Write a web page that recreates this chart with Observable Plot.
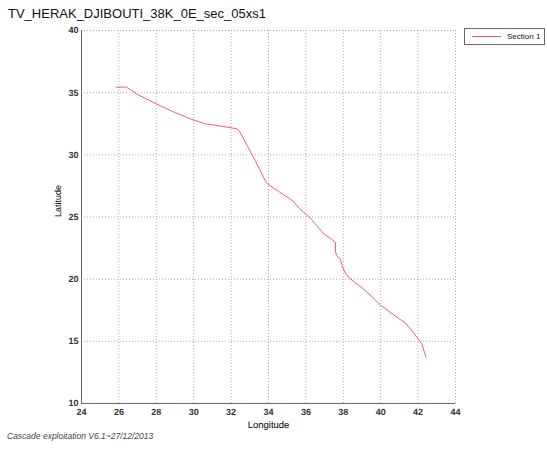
<!DOCTYPE html>
<html>
<head>
<meta charset="utf-8">
<script src="https://cdn.jsdelivr.net/npm/d3@7"></script>
<script src="https://cdn.jsdelivr.net/npm/@observablehq/plot@0.6"></script>
<style>
  html, body { margin: 0; padding: 0; background: #fff; }
  #wrap { position: relative; width: 547px; height: 450px; font-family: "Liberation Sans", Arial, sans-serif; }
  #title { position: absolute; left: 8px; top: 6px; font-size: 13px; color: #111; white-space: nowrap; }
  #caption { position: absolute; left: 7px; top: 431px; font-size: 8.5px; font-style: italic; color: #444; white-space: nowrap; }
  #legend { position: absolute; left: 464px; top: 28px; width: 81px; height: 17px; border: 1px solid #666; box-sizing: border-box; background: #fff; }
  #legend .sw { position: absolute; left: 7px; top: 7px; width: 29px; height: 0; border-top: 1px solid #ff5050; }
  #legend .lb { position: absolute; left: 42px; top: 3px; font-size: 8px; color: #111; white-space: nowrap; }
  #chart svg text { text-rendering: geometricPrecision; }
</style>
</head>
<body>
<div id="wrap">
  <div id="title">TV_HERAK_DJIBOUTI_38K_0E_sec_05xs1</div>
  <div id="chart"></div>
  <div id="legend"><div class="sw"></div><div class="lb">Section 1</div></div>
  <div id="caption">Cascade exploitation V6.1~27/12/2013</div>
</div>
<script>
// Section 1 track: longitude / latitude pairs
const lon = [25.85, 26.4, 27.0, 28.0, 29.0, 29.9, 30.6, 31.5, 32.3, 32.45, 33.2, 33.9, 34.6, 35.3, 35.7, 36.15, 36.5, 36.95, 37.3, 37.58, 37.58, 37.65, 37.85, 37.95, 38.1, 38.35, 39.0, 39.6, 40.0, 40.5, 41.0, 41.3, 41.7, 42.05, 42.2, 42.3, 42.42];
const lat = [35.45, 35.45, 34.85, 34.1, 33.4, 32.85, 32.5, 32.3, 32.1, 31.9, 29.8, 27.7, 27.0, 26.3, 25.6, 25.05, 24.45, 23.65, 23.3, 22.95, 22.2, 21.9, 21.6, 21.0, 20.5, 20.05, 19.3, 18.5, 17.9, 17.35, 16.8, 16.5, 15.8, 15.1, 14.8, 14.3, 13.75];

const xTicks = [24, 26, 28, 30, 32, 34, 36, 38, 40, 42, 44];
const yTicks = [10, 15, 20, 25, 30, 35, 40];

const track = lon.map((x, i) => ({lon: x, lat: lat[i]}));

const chart = Plot.plot({
  width: 547,
  height: 450,
  marginLeft: 81,
  marginRight: 92,
  marginTop: 30,
  marginBottom: 47,
  style: {fontFamily: "Liberation Sans, Arial, sans-serif", fontSize: "9px", color: "#222", background: "#fff"},
  x: {domain: [24, 44], ticks: xTicks},
  y: {domain: [10, 40], ticks: yTicks},
  marks: [
    Plot.gridX(xTicks, {stroke: "#999", strokeOpacity: 0.8, strokeDasharray: "1,2"}),
    Plot.gridY(yTicks, {stroke: "#999", strokeOpacity: 0.8, strokeDasharray: "1,2"}),
    Plot.axisX(xTicks, {tickSize: 0, tickPadding: 5, fontWeight: "bold", fill: "#333", label: null, fontSize: 9}),
    Plot.axisY(yTicks, {tickSize: 0, tickPadding: 3, fontWeight: "bold", fill: "#333", label: null}),
    Plot.text(["Longitude"], {frameAnchor: "bottom", dy: 24, fontSize: 9.5, fill: "black"}),
    Plot.text(["Latitude"], {frameAnchor: "left", dx: -23, rotate: -90, fontSize: 9, fill: "black"}),
    Plot.ruleX([24], {stroke: "#666"}),
    Plot.ruleY([10], {stroke: "#666"}),
    Plot.line(track, {x: "lon", y: "lat", stroke: "#ff3535", strokeWidth: 0.8})
  ]
});
document.getElementById("chart").appendChild(chart);
</script>
</body>
</html>
